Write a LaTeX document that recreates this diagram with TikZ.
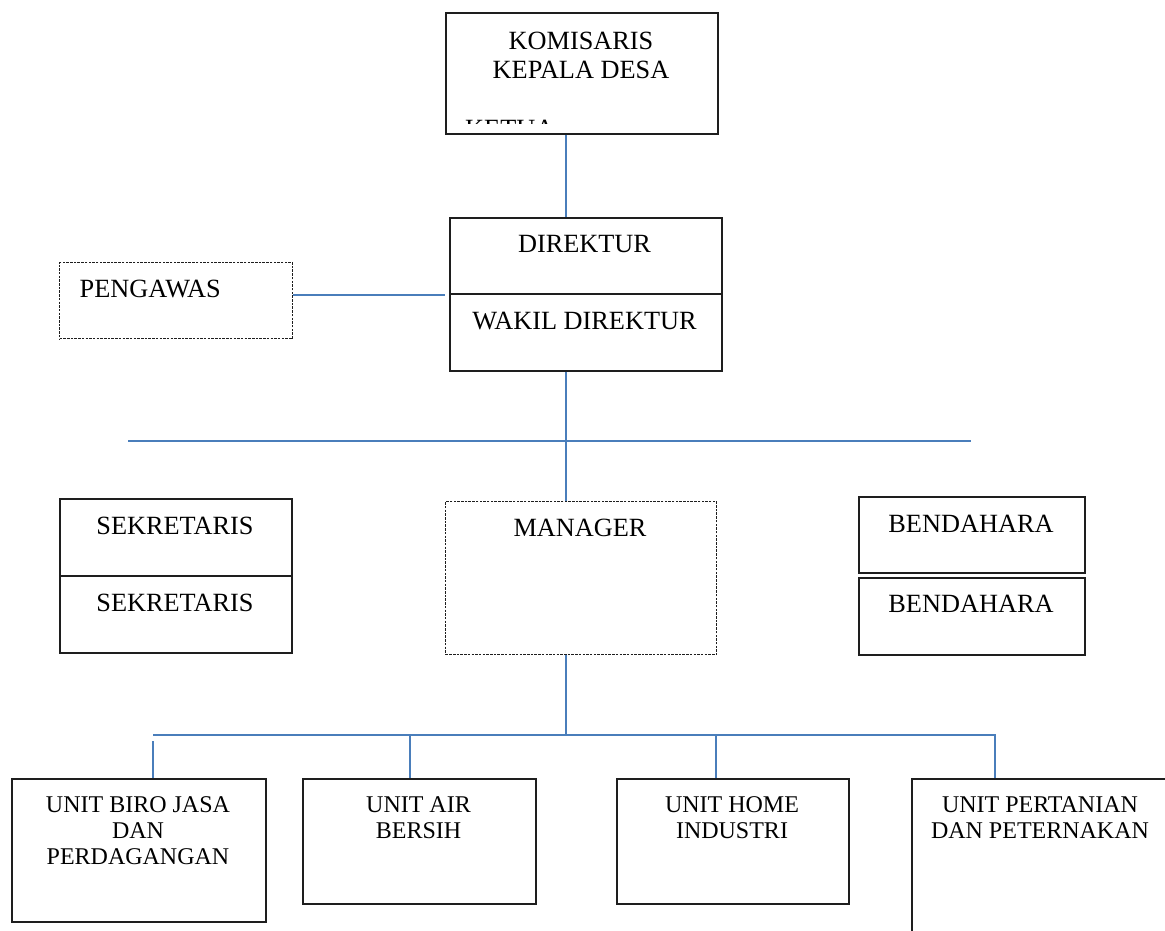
\documentclass[tikz,border=0pt]{standalone}
\usepackage{fontspec}
\setmainfont{Liberation Serif}
\definecolor{lnblue}{HTML}{4A7EBB}
\definecolor{bd}{HTML}{1E1E1E}
\tikzset{
 box/.style={draw=bd, line width=1.6pt, inner sep=0pt, anchor=north west},
 dbox/.style={box, dash pattern=on 2.5pt off 1.2pt, line width=1.3pt},
 txt/.style={inner sep=0pt, align=center, anchor=north, font=\fontsize{26.3}{29}\selectfont},
 stxt/.style={txt, font=\fontsize{24}{26}\selectfont},
 conn/.style={draw=lnblue, line width=2pt},
}
\begin{document}
\begin{tikzpicture}[x=1pt,y=-1pt]
\path[use as bounding box, fill=white] (0,0) rectangle (1165,930);
\clip (0,0) rectangle (1165,930);
% connectors
\coordinate (sp) at (566,0);
\coordinate (hL) at (128,441);
\coordinate (hR) at (971,441);
\coordinate (bL) at (153,735);
\coordinate (bM) at (566,735);
\coordinate (bR) at (995,735);
\coordinate (d1) at (153,741);
\coordinate (d2) at (410,735);
\coordinate (d3) at (716,735);
% boxes
\node[box, minimum width=272pt, minimum height=121pt] (kom) at (445,12) {};
\node[box, minimum width=272pt, minimum height=76pt] (dir1) at (449,217) {};
\node[box, minimum width=272pt, minimum height=77pt] (dir2) at (449,293) {};
\node[dbox, minimum width=233pt, minimum height=76pt] (peng) at (59,262) {};
\node[box, minimum width=232pt, minimum height=77pt] (sek1) at (59,498) {};
\node[box, minimum width=232pt, minimum height=77pt] (sek2) at (59,575) {};
\node[dbox, minimum width=271pt, minimum height=153pt] (mgr) at (445,501) {};
\node[box, minimum width=226pt, minimum height=76pt] (ben1) at (858,496) {};
\node[box, minimum width=226pt, minimum height=77pt] (ben2) at (858,577) {};
\node[box, minimum width=254pt, minimum height=143pt] (u1) at (11,778) {};
\node[box, minimum width=233pt, minimum height=125pt] (u2) at (302,778) {};
\node[box, minimum width=232pt, minimum height=125pt] (u3) at (616,778) {};
\node[box, minimum width=300pt, minimum height=200pt] (u4) at (911,778) {};
% texts
\node[txt] (tkom) at (581,32) {KOMISARIS\\KEPALA DESA};
\begin{scope}
\clip (445,12) rectangle (717,123);
\node[txt, anchor=north west] (tket) at (465,120) {KETUA};
\end{scope}
\node[txt] (tdir1) at (584.5,235) {DIREKTUR};
\node[txt] (tdir2) at (584.5,312) {WAKIL DIREKTUR};
\node[txt, anchor=north west] (tpeng) at (79.5,279.5) {PENGAWAS};
\node[txt] (tsek1) at (175,517) {SEKRETARIS};
\node[txt] (tsek2) at (175,594) {SEKRETARIS};
\node[txt] (tmgr) at (580,519) {MANAGER};
\node[txt] (tben1) at (971,515) {BENDAHARA};
\node[txt] (tben2) at (971,595) {BENDAHARA};
\node[stxt] (tu1) at (138,796) {UNIT BIRO JASA\\DAN\\PERDAGANGAN};
\node[stxt] (tu2) at (418.5,796) {UNIT AIR\\BERSIH};
\node[stxt] (tu3) at (732,796) {UNIT HOME\\INDUSTRI};
\node[stxt] (tu4) at (1040,796) {UNIT PERTANIAN\\DAN PETERNAKAN};
% lines
\draw[conn] (kom.south -| sp) -- (dir1.north -| sp);
\draw[conn] (dir2.south -| sp) -- (mgr.north -| sp);
\draw[conn] (peng.east |- dir1.south) -- ([xshift=-4pt]dir1.south west);
\draw[conn] (hL) -- (hR);
\draw[conn] (mgr.south -| sp) -- (bM);
\draw[conn] (bL) -- (bR) -- (bR |- u4.north);
\draw[conn] (d1) -- (d1 |- u1.north);
\draw[conn] (d2) -- (d2 |- u2.north);
\draw[conn] (d3) -- (d3 |- u3.north);
\end{tikzpicture}
\end{document}
